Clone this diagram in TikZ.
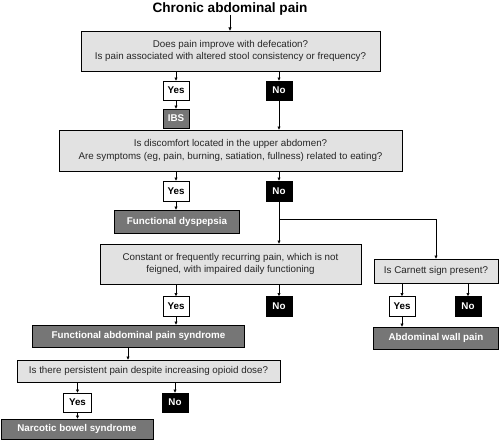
\documentclass[tikz,border=0pt]{standalone}
\usepackage{fontspec}
\setmainfont{Liberation Sans}
\usetikzlibrary{arrows.meta}
\definecolor{qfill}{HTML}{E2E2E2}
\definecolor{dfill}{HTML}{767676}
\begin{document}
\begin{tikzpicture}[x=1pt,y=-1pt,
  every node/.style={inner sep=0pt, outer sep=0pt, font=\fontsize{9.8}{12.5}\selectfont},
  qbox/.style={draw=black, line width=0.9pt, fill=qfill, align=center, text=black!85},
  ybox/.style={draw=black, line width=0.9pt, fill=white, font=\fontsize{9.8}{12}\selectfont\bfseries, minimum width=26pt, minimum height=19pt},
  nbox/.style={draw=black, line width=0.9pt, fill=black, text=white, font=\fontsize{9.8}{12}\selectfont\bfseries, minimum width=26pt, minimum height=19pt},
  dbox/.style={draw=black, line width=0.9pt, fill=dfill, text=white, font=\fontsize{9.8}{12}\selectfont\bfseries},
  arr/.style={-{Latex[length=3.5pt,width=3.5pt]}, line width=0.8pt}
]
\useasboundingbox (0,0) rectangle (500,444);
\node[font=\fontsize{13.6}{15}\selectfont\bfseries] (title) at (230,8.5) {Chronic abdominal pain};
\node[qbox, minimum width=299pt, minimum height=40pt] (b1) at (230.5,51) {Does pain improve with defecation?\\Is pain associated with altered stool consistency or frequency?};
\node[ybox] (y1) at (176,90.5) {Yes};
\node[nbox] (n1) at (279,90.5) {No};
\node[dbox, minimum width=26pt, minimum height=19pt] (ibs) at (176,118.5) {IBS};
\node[qbox, minimum width=343pt, minimum height=41pt] (b2) at (230.5,150.5) {Is discomfort located in the upper abdomen?\\Are symptoms (eg, pain, burning, satiation, fullness) related to eating?};
\node[ybox, minimum height=20pt] (y2) at (176,191) {Yes};
\node[nbox, minimum height=20pt] (n2) at (279,191) {No};
\node[dbox, minimum width=125pt, minimum height=23pt] (fd) at (177,221.5) {Functional dyspepsia};
\node[qbox, minimum width=261pt, minimum height=40pt] (b3) at (230.5,264) {Constant or frequently recurring pain, which is not\\feigned, with impaired daily functioning};
\node[qbox, minimum width=124pt, minimum height=24pt] (cs) at (436,271) {Is Carnett sign present?};
\node[ybox, minimum height=20pt] (y3) at (176,306.5) {Yes};
\node[nbox, minimum height=20pt] (n3) at (279,306.5) {No};
\node[ybox, minimum height=20pt] (y4) at (402,306.5) {Yes};
\node[nbox, minimum height=20pt] (n4) at (468,306.5) {No};
\node[dbox, minimum width=212pt, minimum height=22pt] (faps) at (138.5,336) {Functional abdominal pain syndrome};
\node[dbox, minimum width=125pt, minimum height=22pt] (awp) at (436,338) {Abdominal wall pain};
\node[qbox, minimum width=263pt, minimum height=22pt] (b4) at (148.5,371) {Is there persistent pain despite increasing opioid dose?};
\node[ybox, minimum width=28pt] (y5) at (77.5,402.5) {Yes};
\node[nbox] (n5) at (175,402.5) {No};
\node[dbox, minimum width=152pt, minimum height=20pt] (nbs) at (77,429) {Narcotic bowel syndrome};
\coordinate (br) at (279,219);
% arrows
\draw[arr] (title.south |- 0,15) -- (b1.north -| title.south);
\draw[arr] (b1.south -| y1) -- (y1.north);
\draw[arr] (b1.south -| n1) -- (n1.north);
\draw[arr] (y1) -- (ibs);
\draw[arr] (n1) -- (b2.north -| n1);
\draw[arr] (b2.south -| y2) -- (y2.north);
\draw[arr] (b2.south -| n2) -- (n2.north);
\draw[arr] (y2.south) -- (fd.north -| y2);
\draw[arr] (n2) -- (b3.north -| n2);
\draw[arr] (br) -- (br -| cs) -- (cs.north);
\draw[arr] (b3.south -| y3) -- (y3.north);
\draw[arr] (b3.south -| n3) -- (n3.north);
\draw[arr] (cs.south -| y4) -- (y4.north);
\draw[arr] (cs.south -| n4) -- (n4.north);
\draw[arr] (y3.south) -- (faps.north -| y3);
\draw[arr] (y4.south) -- (awp.north -| y4);
\draw[arr] (faps.south -| 128,0) -- (b4.north -| 128,0);
\draw[arr] (b4.south -| y5) -- (y5.north);
\draw[arr] (b4.south -| n5) -- (n5.north);
\draw[arr] (y5) -- (nbs.north -| y5);
\end{tikzpicture}
\end{document}
